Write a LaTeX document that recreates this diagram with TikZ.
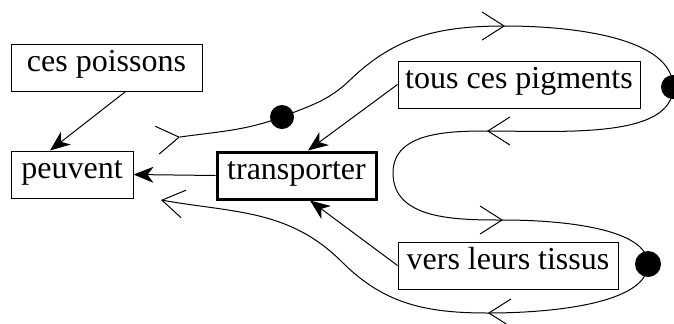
\documentclass[tikz,border=0pt]{standalone}
\usepackage{fontspec}
\setmainfont{Liberation Serif}
\usetikzlibrary{arrows.meta}

\tikzset{
  box/.style={draw,line width=0.5pt,minimum height=23.5pt,inner sep=0pt,
    text height=0.6em,text depth=0.22em,font=\fontsize{16}{19}\selectfont},
  link/.style={line width=0.5pt,-{Stealth[length=10pt,width=8pt,inset=3pt]}},
  chain/.style={line width=0.5pt},
  barb/.style={line width=0.5pt,-{Straight Barb[length=11pt,width=14pt]}}
}

\begin{document}
\begin{tikzpicture}[x=0.5pt,y=0.5pt]
\useasboundingbox (0,0) rectangle (674,-323);
% word boxes
\node[box,minimum width=95.5pt] (poissons) at (106.5,-68) {ces poissons};
\node[box,minimum width=61pt] (peuvent) at (72,-174.5) {peuvent};
\node[box,minimum width=79.5pt,line width=1.5pt] (transporter) at (296.5,-175.5) {transporter};
\node[box,minimum width=121pt] (pigments) at (519,-84.5) {tous ces pigments};
\node[box,minimum width=110pt] (tissus) at (508,-265.5) {vers leurs tissus};
% dependencies
\draw[link] ([xshift=9.25pt]poissons.south) -- ([xshift=-11pt]peuvent.north);
\draw[link] (transporter.west) -- (peuvent.east);
\draw[link] (pigments.west) -- ([xshift=5.75pt]transporter.north);
\draw[link] (tissus.west) -- ([xshift=6.75pt]transporter.south);
% points of the winding line
\coordinate (A) at (180,-137);
\coordinate (D1) at (282,-117);
\coordinate (M) at (350,-80);
\coordinate (B) at (505,-26);
\coordinate (C) at (673,-87);
\coordinate (E) at (487,-131);
\coordinate (F) at (393,-173);
\coordinate (G) at (503,-220);
\coordinate (H) at (648,-264);
\coordinate (I) at (488,-313);
\coordinate (N) at (342,-262);
\coordinate (J) at (161,-200);
\draw[chain,-{Straight Barb[length=11pt,width=14pt]}] (A) to[out=8,in=200] (D1)
  to[out=22,in=224] (M) to[out=44,in=180] (B)
  to[out=0,in=90,in looseness=0.7] (C) to[out=-90,in=0,out looseness=0.7] (E)
  to[out=180,in=90] (F) to[out=-90,in=180] (G)
  to[out=0,in=90,in looseness=0.6] (H) to[out=-90,in=0,out looseness=0.6] (I)
  to[out=180,in=-45] (N) to[out=135,in=-10] (J);
% direction marks
\draw[barb] ([shift={(188:2)}]A) -- (A);
\draw[barb] ([xshift=-1pt]B) -- (B);
\draw[barb] ([xshift=1pt]E) -- (E);
\draw[barb] ([xshift=-1pt]G) -- (G);
\draw[barb] ([xshift=1pt]I) -- (I);
% dots
\fill (D1) circle (6pt);
\fill (C) circle (6pt);
\fill (H) circle (6.5pt);
\end{tikzpicture}
\end{document}
